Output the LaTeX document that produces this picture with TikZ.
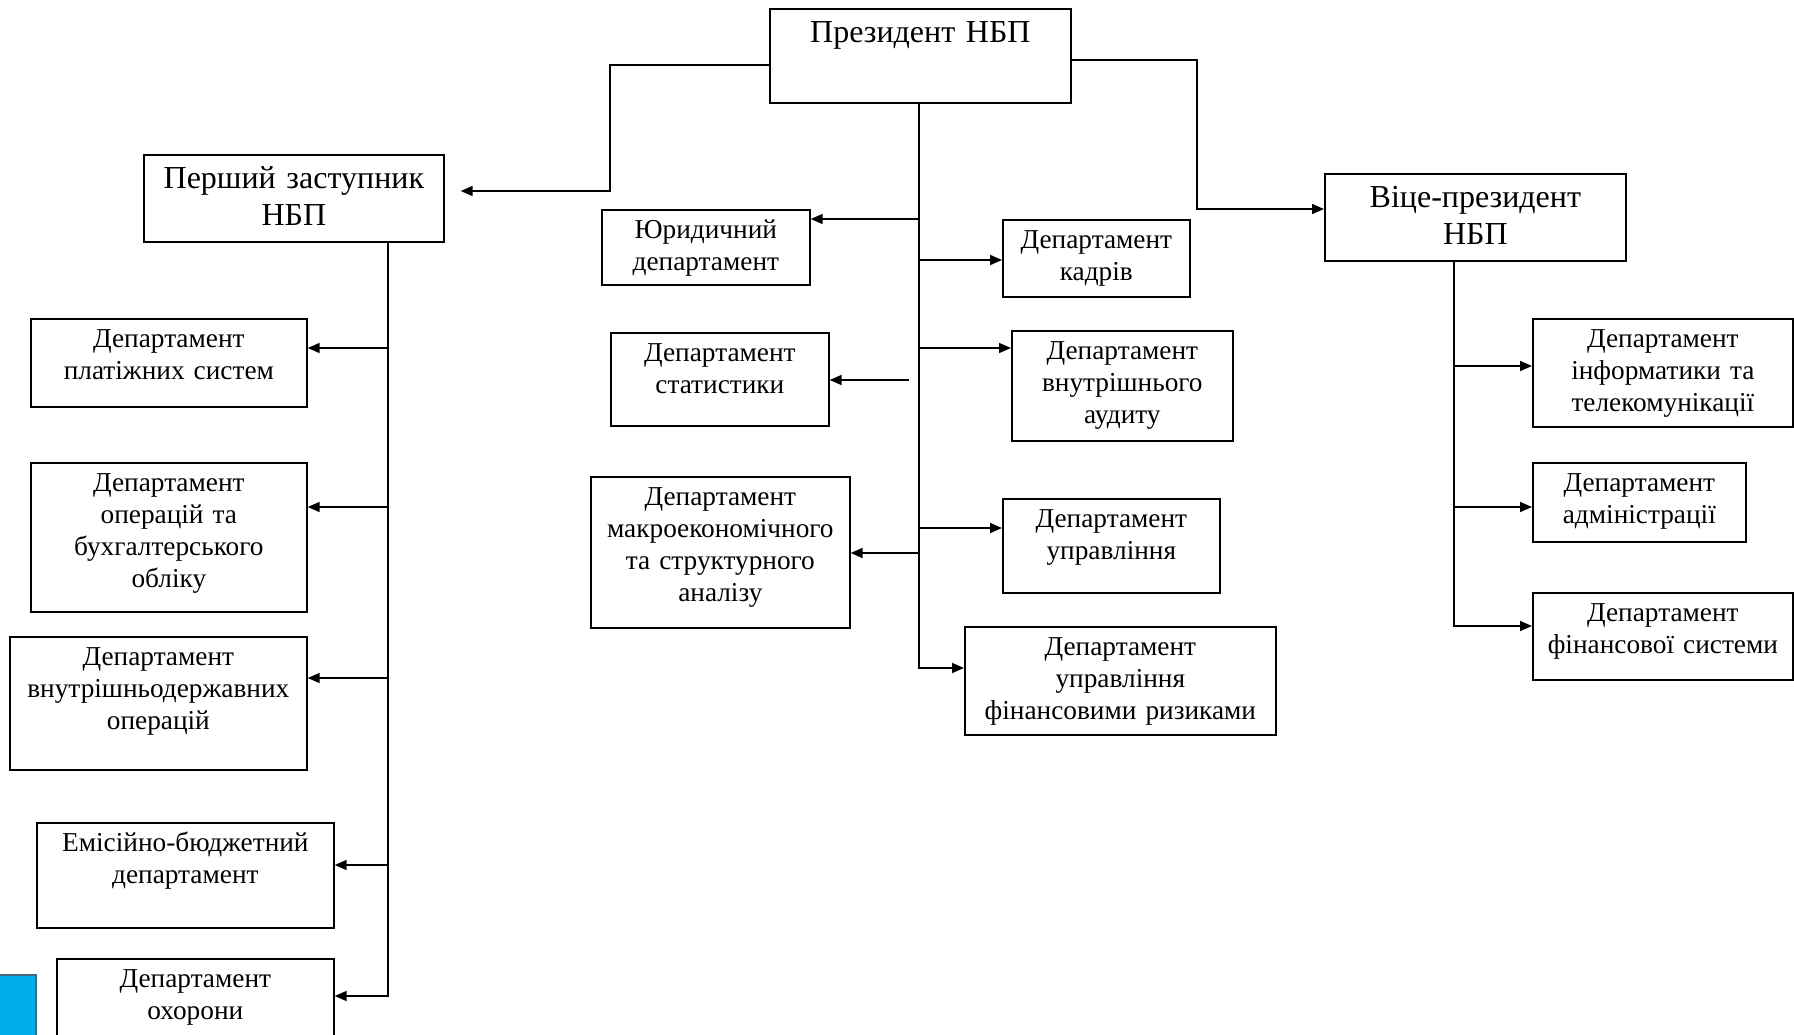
\documentclass[tikz,border=0pt]{standalone}
\usepackage{fontspec}
\setmainfont{Liberation Serif}
\usetikzlibrary{arrows.meta,positioning}

\definecolor{slideblue}{RGB}{0,172,236}
\definecolor{slideedge}{RGB}{72,104,124}
\newcommand{\deptfont}{\fontsize{27.3pt}{32pt}\selectfont}
\newcommand{\headfont}{\fontsize{32pt}{37pt}\selectfont}

\begin{document}
\begin{tikzpicture}[x=1pt,y=-1pt,>={Triangle[length=12pt,width=10pt]},
  line width=1.7pt,
  unit/.style 2 args={draw, anchor=north west, inner sep=0pt, align=center,
    text width=#1pt, text height=29pt, text depth=#2pt-29pt, font=\deptfont},
  head/.style 2 args={unit={#1}{#2}, text height=34pt, text depth=#2pt-34pt, font=\headfont}]
  \useasboundingbox (0,0) rectangle (1794,1034);

  % Heads
  \node[head={301}{94}] (pres) at (769,8) {Президент НБП};
  \node[head={300}{87}] (first) at (143,154) {Перший заступник\\НБП};
  \node[head={301}{87}] (vice) at (1324,173) {Віце-президент\\НБП};

  % Departments under the president
  \node[unit={208}{75}] (jur) at (601,209) {Юридичний\\департамент};
  \node[unit={218}{93}] (stat) at (610,332) {Департамент\\статистики};
  \node[unit={259}{151}] (macro) at (590,476) {Департамент\\макроекономічного\\та структурного\\аналізу};
  \node[unit={187}{77}] (staff) at (1002,219) {Департамент\\кадрів};
  \node[unit={221}{110}] (audit) at (1011,330) {Департамент\\внутрішнього\\аудиту};
  \node[unit={217}{94}] (manage) at (1002,498) {Департамент\\управління};
  \node[unit={311}{108}] (risk) at (964,626) {Департамент\\управління\\фінансовими ризиками};

  % Departments under the first deputy
  \node[unit={276}{88}] (pay) at (30,318) {Департамент\\платіжних систем};
  \node[unit={276}{149}] (acc) at (30,462) {Департамент\\операцій та\\бухгалтерського\\обліку};
  \node[unit={297}{133}] (dom) at (9,636) {Департамент\\внутрішньодержавних\\операцій};
  \node[unit={297}{105}] (emis) at (36,822) {Емісійно-бюджетний\\департамент};
  \node[unit={277}{90}] (guard) at (56,958) {Департамент\\охорони};

  % Departments under the vice-president
  \node[unit={260}{108}] (it) at (1532,318) {Департамент\\інформатики та\\телекомунікації};
  \node[unit={213}{79}] (admin) at (1532,462) {Департамент\\адміністрації};
  \node[unit={260}{87}] (finsys) at (1532,592) {Департамент\\фінансової системи};

  % President to deputies
  \coordinate (lbend) at (610,191);
  \coordinate (rbend) at (1197,209);
  \draw[->, shorten >=16pt] ([yshift=-9pt]pres.west) -| (lbend) -- (lbend -| first.east);
  \draw[->] ([yshift=-4pt]pres.east) -| (rbend) -- (rbend -| vice.west);

  % Central trunk
  \coordinate (cend) at (919,668);
  \draw[->] (pres.south -| cend) -- (cend) -- (cend -| risk.west);
  \foreach \n/\y in {jur/219, macro/553} {
    \coordinate (\n-in) at (919,\y);
    \draw[->] (\n-in) -- (\n-in -| \n.east);
  }
  \foreach \n/\y in {staff/260, audit/348, manage/528} {
    \coordinate (\n-in) at (919,\y);
    \draw[->] (\n-in) -- (\n-in -| \n.west);
  }
  \coordinate (stat-in) at (909,380);
  \draw[->] (stat-in) -- (stat-in -| stat.east);

  % Left trunk
  \coordinate (lend) at (388,996);
  \draw[->] (first.south -| lend) -- (lend) -- (lend -| guard.east);
  \foreach \n/\y in {pay/348, acc/507, dom/678, emis/865} {
    \coordinate (\n-in) at (388,\y);
    \draw[->] (\n-in) -- (\n-in -| \n.east);
  }

  % Right trunk
  \coordinate (rend) at (1454,626);
  \draw[->] (vice.south -| rend) -- (rend) -- (rend -| finsys.west);
  \foreach \n/\y in {it/366, admin/507} {
    \coordinate (\n-in) at (1454,\y);
    \draw[->] (\n-in) -- (\n-in -| \n.west);
  }

  % Slide corner
  \filldraw[fill=slideblue, draw=slideedge, line width=2pt] (-4,975) rectangle (36,1040);
\end{tikzpicture}
\end{document}
